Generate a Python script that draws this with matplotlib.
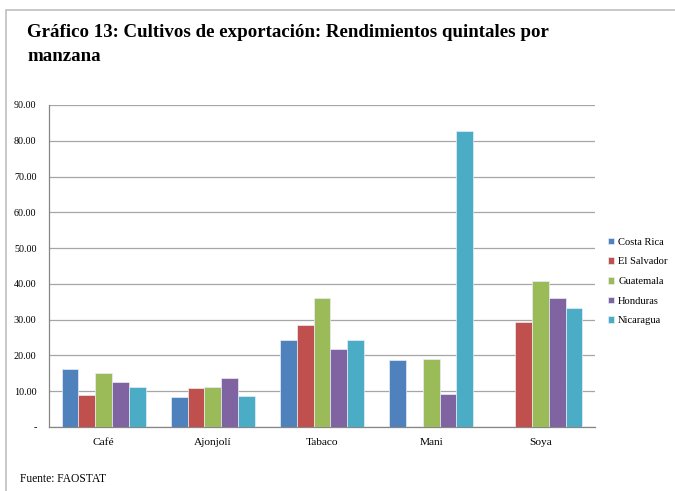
import numpy as np
import matplotlib
matplotlib.use("Agg")
import matplotlib.pyplot as plt
from matplotlib.patches import Rectangle

cultivos = ["Café", "Ajonjolí", "Tabaco", "Mani", "Soya"]
paises = ["Costa Rica", "El Salvador", "Guatemala", "Honduras", "Nicaragua"]
colores = ["#4F81BD", "#C0504D", "#9BBB59", "#8064A2", "#4BACC6"]

costa_rica = [16.3, 8.3, 24.2, 18.7, np.nan]
el_salvador = [8.9, 11.0, 28.4, np.nan, 29.4]
guatemala = [15.1, 11.3, 36.1, 19.1, 40.8]
honduras = [12.6, 13.8, 21.9, 9.1, 36.1]
nicaragua = [11.1, 8.8, 24.4, 82.7, 33.3]
series = [costa_rica, el_salvador, guatemala, honduras, nicaragua]

yticks = [0, 10, 20, 30, 40, 50, 60, 70, 80, 90]
ylabels = ["-"] + ["%.2f" % v for v in yticks[1:]]

plt.rcParams["font.family"] = ["Liberation Serif", "DejaVu Serif"]

fig = plt.figure(figsize=(6.75, 4.91), dpi=100)
fig.patches.append(Rectangle((6 / 675, -0.1), 1.2, 1.1 - 10 / 491,
                             transform=fig.transFigure, fill=False,
                             edgecolor="#BFBFBF", linewidth=1.2))

ax = fig.add_axes([49 / 675, 1 - 427 / 491, 546 / 675, 322 / 491])
x = np.arange(len(cultivos))
w = 0.154
for i, (vals, pais, c) in enumerate(zip(series, paises, colores)):
    ax.bar(x + (i - 2) * w, vals, w, color=c, edgecolor="#E8EEF6",
           linewidth=0.5, label=pais, zorder=3)

ax.set_xlim(-0.5, len(cultivos) - 0.5)
ax.set_ylim(0, 90)
ax.set_yticks(yticks)
ax.set_yticklabels(ylabels, fontsize=7.3)
ax.set_xticks(x)
ax.set_xticklabels(cultivos, fontsize=8.2)
ax.tick_params(length=0)
ax.tick_params(axis="y", pad=9)
ax.tick_params(axis="x", pad=8)
ax.yaxis.grid(True, color="#A6A6A6", linewidth=0.9, zorder=0)
for s in ["top", "right"]:
    ax.spines[s].set_visible(False)
for s in ["left", "bottom"]:
    ax.spines[s].set_color("#868686")
    ax.spines[s].set_linewidth(0.9)

ax.legend(loc="center left", bbox_to_anchor=(1.0, 0.452), frameon=False,
          fontsize=7.6, handlelength=0.6, handleheight=0.6,
          handletextpad=0.4, labelspacing=1.0, borderaxespad=0.8)

fig.text(27 / 675, 1 - 37 / 491,
         "Gráfico 13: Cultivos de exportación: Rendimientos quintales por",
         fontsize=13.6, fontweight="bold", va="baseline")
fig.text(27 / 675, 1 - 61 / 491, "manzana",
         fontsize=13.6, fontweight="bold", va="baseline")
fig.text(20 / 675, 1 - 482 / 491, "Fuente: FAOSTAT", fontsize=8.3, va="baseline")

fig.savefig("out.png", dpi=100)
